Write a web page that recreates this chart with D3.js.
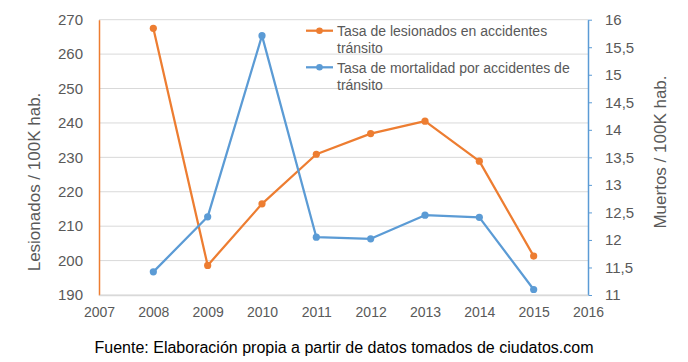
<!DOCTYPE html>
<html>
<head>
<meta charset="utf-8">
<script src="https://cdn.jsdelivr.net/npm/d3@7"></script>
<style>
  body { margin: 0; background: #fff; }
  text { font-family: "Liberation Sans", Arial, sans-serif; fill: #595959; }
</style>
</head>
<body>
<svg id="chart" width="688" height="362"></svg>
<script>
// data
var years = [2008, 2009, 2010, 2011, 2012, 2013, 2014, 2015];
var lesionados = [267.5, 198.6, 216.5, 230.9, 236.9, 240.5, 228.9, 201.3];
var mortalidad = [11.42, 12.42, 15.71, 12.05, 12.02, 12.45, 12.41, 11.10];
var xTicks = [2007, 2008, 2009, 2010, 2011, 2012, 2013, 2014, 2015, 2016];
var leftTicks = [190, 200, 210, 220, 230, 240, 250, 260, 270];
var rightTicks = [11, 11.5, 12, 12.5, 13, 13.5, 14, 14.5, 15, 15.5, 16];
var legendLabels = [
  ["Tasa de lesionados en accidentes", "tránsito"],
  ["Tasa de mortalidad por accidentes de", "tránsito"]
];

var orange = "#ED7D31", blue = "#5B9BD5";
var svg = d3.select("#chart");

var plotLeft = 99, plotRight = 588, plotTop = 19.7, plotBottom = 295;

var x = d3.scaleLinear().domain([2007, 2016]).range([plotLeft, plotRight]);
var yL = d3.scaleLinear().domain([190, 270]).range([plotBottom, plotTop]);
var yR = d3.scaleLinear().domain([11, 16]).range([plotBottom, plotTop]);

var es = d3.formatLocale({decimal: ",", thousands: ".", grouping: [3], currency: ["", "€"]});
var fmtR = es.format("~g");

// gridlines
svg.append("g")
  .selectAll("line")
  .data(leftTicks)
  .join("line")
    .attr("x1", plotLeft).attr("x2", plotRight)
    .attr("y1", function(d) { return yL(d); })
    .attr("y2", function(d) { return yL(d); })
    .attr("stroke", "#D9D9D9")
    .attr("stroke-width", 1);

// left axis
var gL = svg.append("g")
  .attr("transform", "translate(" + plotLeft + ",0)")
  .call(d3.axisLeft(yL).tickValues(leftTicks).tickSize(0).tickPadding(16));
gL.select(".domain").attr("stroke", orange).attr("stroke-width", 1.5);
gL.selectAll("text").style("font-size", "15px").attr("fill", "#595959");

// right axis
var gR = svg.append("g")
  .attr("transform", "translate(" + plotRight + ",0)")
  .call(d3.axisRight(yR).tickValues(rightTicks).tickFormat(fmtR).tickSizeInner(4).tickSizeOuter(0).tickPadding(13));
gR.select(".domain").attr("stroke", blue).attr("stroke-width", 1.5);
gR.selectAll(".tick line").attr("stroke", blue);
gR.selectAll("text").style("font-size", "15px").attr("fill", "#595959");

// bottom axis
var gB = svg.append("g")
  .attr("transform", "translate(0," + plotBottom + ")")
  .call(d3.axisBottom(x).tickValues(xTicks).tickFormat(d3.format("d")).tickSize(0).tickPadding(12));
gB.select(".domain").attr("stroke", "#D9D9D9").attr("stroke-width", 1.5);
gB.selectAll("text").style("font-size", "14px").attr("fill", "#595959");

// series
function drawSeries(values, yScale, color) {
  var pts = years.map(function(yr, i) { return [yr, values[i]]; });
  var line = d3.line()
    .x(function(d) { return x(d[0]); })
    .y(function(d) { return yScale(d[1]); });
  svg.append("path")
    .datum(pts)
    .attr("fill", "none")
    .attr("stroke", color)
    .attr("stroke-width", 2.25)
    .attr("stroke-linejoin", "round")
    .attr("d", line);
  svg.append("g")
    .selectAll("circle")
    .data(pts)
    .join("circle")
      .attr("cx", function(d) { return x(d[0]); })
      .attr("cy", function(d) { return yScale(d[1]); })
      .attr("r", 3.6)
      .attr("fill", color);
}
drawSeries(lesionados, yL, orange);
drawSeries(mortalidad, yR, blue);

// axis titles
svg.append("text")
  .attr("transform", "translate(40,182) rotate(-90)")
  .attr("text-anchor", "middle")
  .style("font-size", "17px")
  .text("Lesionados / 100K hab.");

svg.append("text")
  .attr("transform", "translate(666,152) rotate(-90)")
  .attr("text-anchor", "middle")
  .style("font-size", "17px")
  .text("Muertos / 100K hab.");

// legend
var legend = svg.append("g").attr("transform", "translate(306,0)");
var legendY = [30.7, 67.3];
var legendColors = [orange, blue];
legendLabels.forEach(function(lines, i) {
  var g = legend.append("g").attr("transform", "translate(0," + legendY[i] + ")");
  g.append("line").attr("x1", 0).attr("x2", 27).attr("stroke", legendColors[i]).attr("stroke-width", 2.25);
  g.append("circle").attr("cx", 13.5).attr("r", 3.3).attr("fill", legendColors[i]);
  var t = g.append("text").attr("x", 31).attr("y", 5.5).style("font-size", "14px");
  lines.forEach(function(s, j) {
    t.append("tspan").attr("x", 31).attr("dy", j === 0 ? 0 : 17).text(s);
  });
});

// caption
svg.append("text")
  .attr("x", 344)
  .attr("y", 353)
  .attr("text-anchor", "middle")
  .style("font-size", "16px")
  .style("fill", "#000")
  .text("Fuente: Elaboración propia a partir de datos tomados de ciudatos.com");
</script>
</body>
</html>
